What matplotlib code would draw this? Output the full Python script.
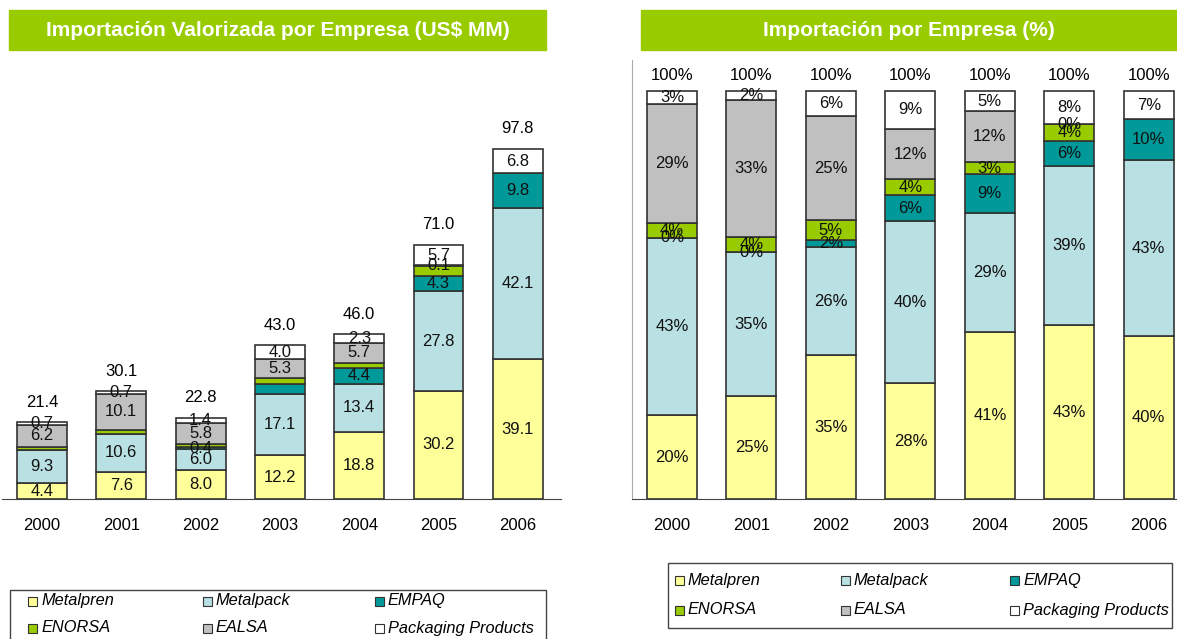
import matplotlib.pyplot as plt
from matplotlib.patches import Rectangle
import numpy as np

plt.rcParams['font.family'] = ['Liberation Sans', 'DejaVu Sans']

years = ['2000', '2001', '2002', '2003', '2004', '2005', '2006']
companies = ['Metalpren', 'Metalpack', 'EMPAQ', 'ENORSA', 'EALSA', 'Packaging Products']
colors = ['#ffff99', '#b9e0e3', '#009999', '#99cc00', '#c0c0c0', '#ffffff']

# US$ MM por empresa
metalpren = [4.4, 7.6, 8.0, 12.2, 18.8, 30.2, 39.1]
metalpack = [9.3, 10.6, 6.0, 17.1, 13.4, 27.8, 42.1]
empaq = [0.0, 0.0, 0.4, 2.7, 4.4, 4.3, 9.8]
enorsa = [0.8, 1.1, 1.1, 1.7, 1.4, 2.9, 0.0]
ealsa = [6.2, 10.1, 5.8, 5.3, 5.7, 0.1, 0.0]
packaging = [0.7, 0.7, 1.4, 4.0, 2.3, 5.7, 6.8]
totals = [21.4, 30.1, 22.8, 43.0, 46.0, 71.0, 97.8]

# etiquetas visibles en el grafico de US$ (None = sin etiqueta)
lbl_metalpren = ['4.4', '7.6', '8.0', '12.2', '18.8', '30.2', '39.1']
lbl_metalpack = ['9.3', '10.6', '6.0', '17.1', '13.4', '27.8', '42.1']
lbl_empaq = [None, None, '0.4', None, '4.4', '4.3', '9.8']
lbl_enorsa = [None] * 7
lbl_ealsa = ['6.2', '10.1', '5.8', '5.3', '5.7', '0.1', None]
lbl_packaging = ['0.7', '0.7', '1.4', '4.0', '2.3', '5.7', '6.8']

# etiquetas del grafico de %
pct_metalpren = ['20%', '25%', '35%', '28%', '41%', '43%', '40%']
pct_metalpack = ['43%', '35%', '26%', '40%', '29%', '39%', '43%']
pct_empaq = ['0%', '0%', '2%', '6%', '9%', '6%', '10%']
pct_enorsa = ['4%', '4%', '5%', '4%', '3%', '4%', None]
pct_ealsa = ['29%', '33%', '25%', '12%', '12%', '0%', None]
pct_packaging = ['3%', '2%', '6%', '9%', '5%', '8%', '7%']

values = np.array([metalpren, metalpack, empaq, enorsa, ealsa, packaging])
val_labels = [lbl_metalpren, lbl_metalpack, lbl_empaq, lbl_enorsa, lbl_ealsa, lbl_packaging]
pct_labels = [pct_metalpren, pct_metalpack, pct_empaq, pct_enorsa, pct_ealsa, pct_packaging]
pct_values = values / values.sum(axis=0) * 100

W, H = 1177, 639
fig = plt.figure(figsize=(W / 100, H / 100), dpi=100)
green = '#99cc00'
edge = '#333333'
x = np.arange(len(years))
bw = 0.63
fs = 12


def px(x0, y0, x1, y1):
    return [x0 / W, 1 - y1 / H, (x1 - x0) / W, (y1 - y0) / H]


def stacked(ax, vals, labels):
    bottom = np.zeros(len(years))
    for i in range(len(companies)):
        ax.bar(x, vals[i], bw, bottom=bottom, color=colors[i], edgecolor=edge, linewidth=1.2, zorder=2)
        for j in range(len(years)):
            if labels[i][j] is not None:
                ax.text(x[j], bottom[j] + vals[i][j] / 2, labels[i][j], ha='center', va='center',
                        fontsize=fs, color='#111111', zorder=3)
        bottom += vals[i]
    return bottom


def style(ax):
    for s in ['top', 'right', 'left']:
        ax.spines[s].set_visible(False)
    ax.spines['bottom'].set_color('#444444')
    ax.set_yticks([])
    ax.set_xticks(x)
    ax.set_xticklabels(years, fontsize=fs)
    ax.tick_params(axis='x', length=0, pad=14)


# banners
for (x0, x1, txt) in [(9, 546, 'Importación Valorizada por Empresa (US$ MM)'),
                      (641, 1177, 'Importación por Empresa (%)')]:
    fig.patches.append(Rectangle((x0 / W, 1 - 50 / H), (x1 - x0) / W, 40 / H,
                                 transform=fig.transFigure, color=green, zorder=0))
    fig.text((x0 + x1) / 2 / W, 1 - 31 / H, txt, ha='center', va='center',
             color='white', fontsize=15, fontweight='bold')

# grafico US$
ax1 = fig.add_axes(px(2, 60, 561, 499))
top1 = stacked(ax1, values, val_labels)
for j in range(len(years)):
    ax1.annotate(f'{totals[j]:.1f}', (x[j], top1[j]), xytext=(0, 9), textcoords='offset points',
                 ha='center', va='bottom', fontsize=fs)
ax1.set_xlim(-0.505, 6.545)
ax1.set_ylim(0, 439 / 3.58)
style(ax1)

# grafico %
ax2 = fig.add_axes(px(632, 60, 1177, 499))
top2 = stacked(ax2, pct_values, pct_labels)
for j in range(len(years)):
    ax2.annotate('100%', (x[j], 100), xytext=(0, 6), textcoords='offset points',
                 ha='center', va='bottom', fontsize=fs)
ax2.set_xlim(-0.503, 6.355)
ax2.set_ylim(0, 439 / 4.08)
style(ax2)
ax2.spines['left'].set_visible(True)
ax2.spines['left'].set_color('#aaaaaa')
ax2.spines['left'].set_linewidth(0.8)

# leyendas (dibujadas a mano para fijar columnas)
order = [0, 1, 2, 3, 4, 5]
legends = [
    dict(box=(10, 590, 546, 660), cols=[28, 203, 375], rows=[601, 628]),
    dict(box=(668, 563, 1172, 628), cols=[675, 841, 1010], rows=[580, 610]),
]
for lg in legends:
    bx0, by0, bx1, by1 = lg['box']
    fig.patches.append(Rectangle((bx0 / W, 1 - by1 / H), (bx1 - bx0) / W, (by1 - by0) / H,
                                 transform=fig.transFigure, facecolor='white',
                                 edgecolor='#444444', linewidth=1.0, zorder=1))
    for k, c in enumerate(order):
        cx = lg['cols'][k % 3]
        cy = lg['rows'][k // 3]
        fig.patches.append(Rectangle((cx / W, 1 - (cy + 4.5) / H), 9 / W, 9 / H,
                                     transform=fig.transFigure, facecolor=colors[c],
                                     edgecolor=edge, linewidth=0.8, zorder=2))
        fig.text((cx + 13) / W, 1 - cy / H, companies[c], ha='left', va='center',
                 fontsize=11.8, style='italic', zorder=3)

fig.savefig('out.png', dpi=100)
